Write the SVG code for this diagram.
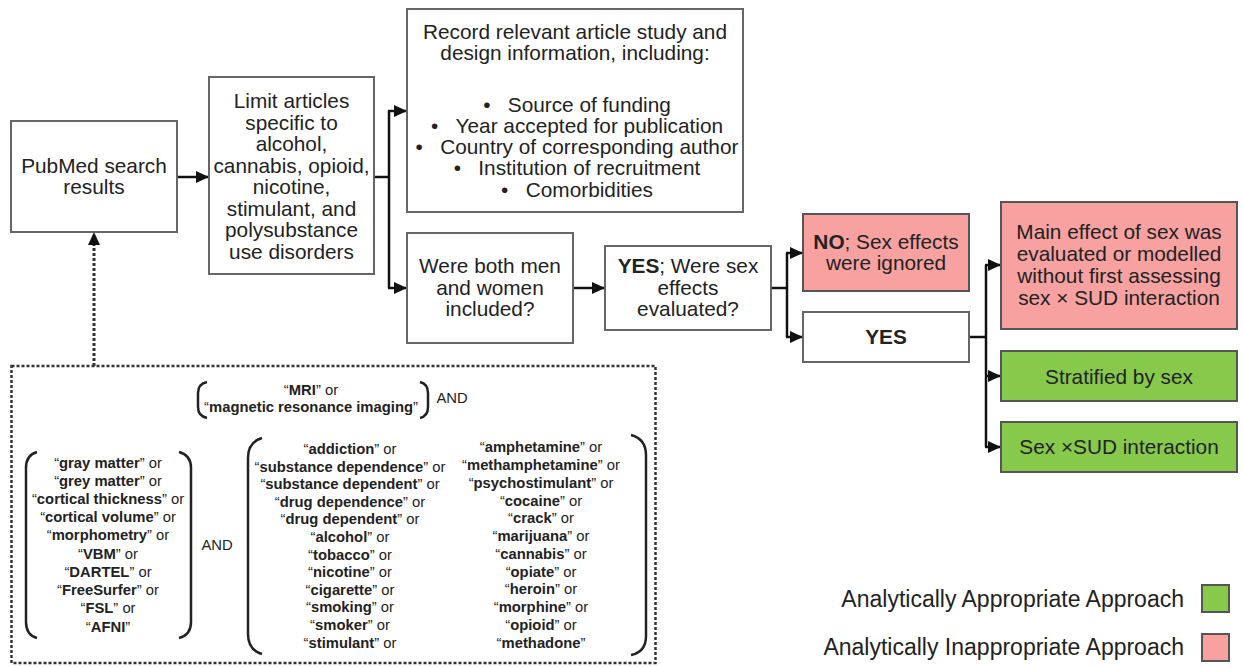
<svg xmlns="http://www.w3.org/2000/svg" width="1243" height="667" viewBox="0 0 1243 667">
<style>
text{font-family:"Liberation Sans",Arial,sans-serif;fill:#222;}
.m{font-size:20.8px;text-anchor:middle;}
.s{font-size:14.8px;text-anchor:middle;}
.b{font-weight:bold;}
.box{fill:#fff;stroke:#666;stroke-width:2;}
.red{fill:#f7a1a1;stroke:#555;stroke-width:2;}
.grn{fill:#86c94b;stroke:#555;stroke-width:2;}
.ln{fill:none;stroke:#111;stroke-width:2.5;}
.arr{fill:none;stroke:#111;stroke-width:2.5;marker-end:url(#ah);}
.br{fill:none;stroke:#222;stroke-width:2.5;}
.leg{font-size:23px;text-anchor:end;}
</style>
<defs>
<marker id="ah" markerUnits="userSpaceOnUse" markerWidth="14" markerHeight="12" refX="13" refY="6" orient="auto">
<path d="M0,0 L13,6 L0,12 Z" fill="#111"/>
</marker>
</defs>
<rect width="1243" height="667" fill="#fff"/>

<g id="connectors">
<line class="arr" x1="177" y1="177" x2="209" y2="177"/>
<polyline class="ln" points="374,177 389,177"/>
<line class="ln" x1="389" y1="111" x2="389" y2="288"/>
<line class="arr" x1="388" y1="111" x2="407" y2="111"/>
<line class="arr" x1="388" y1="288" x2="407" y2="288"/>
<line class="arr" x1="573" y1="288" x2="605" y2="288"/>
<line class="ln" x1="771" y1="288" x2="787" y2="288"/>
<line class="ln" x1="787" y1="253" x2="787" y2="337"/>
<line class="arr" x1="786" y1="253" x2="803" y2="253"/>
<line class="arr" x1="786" y1="337" x2="803" y2="337"/>
<line class="ln" x1="969" y1="337" x2="986" y2="337"/>
<line class="ln" x1="986" y1="265" x2="986" y2="447"/>
<line class="arr" x1="985" y1="265" x2="1001" y2="265"/>
<line class="arr" x1="985" y1="376" x2="1001" y2="376"/>
<line class="arr" x1="985" y1="447" x2="1001" y2="447"/>
<line x1="94" y1="366" x2="94" y2="244" stroke="#333" stroke-width="3" stroke-dasharray="3 2"/>
<path d="M94,232 L100,245 L88,245 Z" fill="#111"/>
</g>

<g id="pubmed">
<rect class="box" x="11" y="121" width="166" height="111"/>
<text class="m" x="94" y="173">PubMed search</text>
<text class="m" x="94" y="194">results</text>
</g>

<g id="limit">
<rect class="box" x="209" y="77" width="165" height="197"/>
<text class="m" x="291.5" y="108">Limit articles</text>
<text class="m" x="291.5" y="129.5">specific to</text>
<text class="m" x="291.5" y="151">alcohol,</text>
<text class="m" x="291.5" y="173">cannabis, opioid,</text>
<text class="m" x="291.5" y="194">nicotine,</text>
<text class="m" x="291.5" y="215.5">stimulant, and</text>
<text class="m" x="291.5" y="237">polysubstance</text>
<text class="m" x="291.5" y="259">use disorders</text>
</g>

<g id="record">
<rect class="box" x="407" y="9" width="336" height="203"/>
<text class="m" x="575" y="39">Record relevant article study and</text>
<text class="m" x="575" y="60">design information, including:</text>
<text class="m" x="577" y="112">•&#160;&#160;&#160;Source of funding</text>
<text class="m" x="577" y="133">•&#160;&#160;&#160;Year accepted for publication</text>
<text class="m" x="577" y="154">•&#160;&#160;&#160;Country of corresponding author</text>
<text class="m" x="577" y="175">•&#160;&#160;&#160;Institution of recruitment</text>
<text class="m" x="577" y="197">•&#160;&#160;&#160;Comorbidities</text>
</g>

<g id="both">
<rect class="box" x="407" y="233" width="166" height="110"/>
<text class="m" x="490" y="273">Were both men</text>
<text class="m" x="490" y="294.5">and women</text>
<text class="m" x="490" y="316">included?</text>
</g>

<g id="yes-eval">
<rect class="box" x="605" y="246" width="166" height="84"/>
<text class="m" x="688" y="273"><tspan class="b">YES</tspan>; Were sex</text>
<text class="m" x="688" y="294.5">effects</text>
<text class="m" x="688" y="316">evaluated?</text>
</g>

<g id="no-ignored">
<rect class="red" x="803" y="214" width="166" height="77"/>
<text class="m" x="886" y="249"><tspan class="b">NO</tspan>; Sex effects</text>
<text class="m" x="886" y="270">were ignored</text>
</g>

<g id="yes">
<rect class="box" x="803" y="312" width="166" height="50"/>
<text class="m b" x="886" y="344">YES</text>
</g>

<g id="main-effect">
<rect class="red" x="1001" y="202" width="236" height="127"/>
<text class="m" x="1119" y="239">Main effect of sex was</text>
<text class="m" x="1119" y="261">evaluated or modelled</text>
<text class="m" x="1119" y="283">without first assessing</text>
<text class="m" x="1119" y="305">sex × SUD interaction</text>
</g>

<g id="stratified">
<rect class="grn" x="1001" y="351" width="236" height="50"/>
<text class="m" x="1119" y="384">Stratified by sex</text>
</g>

<g id="interaction">
<rect class="grn" x="1001" y="422" width="236" height="50"/>
<text class="m" x="1119" y="454">Sex ×SUD interaction</text>
</g>

<g id="search-terms">
<rect x="11.5" y="366" width="644" height="297" fill="none" stroke="#333" stroke-width="2.5" stroke-dasharray="3 2"/>
<path class="br" d="M207,382 Q198,384 198,393 L198,407 Q198,416 207,418"/>
<path class="br" d="M420,382 Q428,384 428,393 L428,407 Q428,416 420,418"/>
<text class="s" x="311" y="395">“<tspan class="b">MRI</tspan>” or</text>
<text class="s" x="311" y="412">“<tspan class="b">magnetic resonance imaging</tspan>”</text>
<text class="s" x="452" y="403">AND</text>

<path class="br" d="M37,452 Q26,455 26,468 L26,622 Q26,635 37,638"/>
<path class="br" d="M179,452 Q191,455 191,468 L191,622 Q191,635 179,638"/>
<text class="s" x="108" y="468">“<tspan class="b">gray matter</tspan>” or</text>
<text class="s" x="108" y="486">“<tspan class="b">grey matter</tspan>” or</text>
<text class="s" x="108" y="504">“<tspan class="b">cortical thickness</tspan>” or</text>
<text class="s" x="108" y="522">“<tspan class="b">cortical volume</tspan>” or</text>
<text class="s" x="108" y="540">“<tspan class="b">morphometry</tspan>” or</text>
<text class="s" x="108" y="559">“<tspan class="b">VBM</tspan>” or</text>
<text class="s" x="108" y="577">“<tspan class="b">DARTEL</tspan>” or</text>
<text class="s" x="108" y="595">“<tspan class="b">FreeSurfer</tspan>” or</text>
<text class="s" x="108" y="613">“<tspan class="b">FSL</tspan>” or</text>
<text class="s" x="108" y="632">“<tspan class="b">AFNI</tspan>”</text>
<text class="s" x="217" y="550">AND</text>

<path class="br" d="M262,438 Q248,442 248,458 L248,634 Q248,650 262,654"/>
<path class="br" d="M631,435 Q646,439 646,455 L646,636 Q646,652 631,655"/>
<text class="s" x="350" y="454">“<tspan class="b">addiction</tspan>” or</text>
<text class="s" x="350" y="472">“<tspan class="b">substance dependence</tspan>” or</text>
<text class="s" x="350" y="489">“<tspan class="b">substance dependent</tspan>” or</text>
<text class="s" x="350" y="507">“<tspan class="b">drug dependence</tspan>” or</text>
<text class="s" x="350" y="524">“<tspan class="b">drug dependent</tspan>” or</text>
<text class="s" x="350" y="542">“<tspan class="b">alcohol</tspan>” or</text>
<text class="s" x="350" y="560">“<tspan class="b">tobacco</tspan>” or</text>
<text class="s" x="350" y="577">“<tspan class="b">nicotine</tspan>” or</text>
<text class="s" x="350" y="595">“<tspan class="b">cigarette</tspan>” or</text>
<text class="s" x="350" y="612">“<tspan class="b">smoking</tspan>” or</text>
<text class="s" x="350" y="630">“<tspan class="b">smoker</tspan>” or</text>
<text class="s" x="350" y="648">“<tspan class="b">stimulant</tspan>” or</text>

<text class="s" x="541" y="452">“<tspan class="b">amphetamine</tspan>” or</text>
<text class="s" x="541" y="470">“<tspan class="b">methamphetamine</tspan>” or</text>
<text class="s" x="541" y="488">“<tspan class="b">psychostimulant</tspan>” or</text>
<text class="s" x="541" y="506">“<tspan class="b">cocaine</tspan>” or</text>
<text class="s" x="541" y="523">“<tspan class="b">crack</tspan>” or</text>
<text class="s" x="541" y="541">“<tspan class="b">marijuana</tspan>” or</text>
<text class="s" x="541" y="559">“<tspan class="b">cannabis</tspan>” or</text>
<text class="s" x="541" y="577">“<tspan class="b">opiate</tspan>” or</text>
<text class="s" x="541" y="594">“<tspan class="b">heroin</tspan>” or</text>
<text class="s" x="541" y="612">“<tspan class="b">morphine</tspan>” or</text>
<text class="s" x="541" y="630">“<tspan class="b">opioid</tspan>” or</text>
<text class="s" x="541" y="648">“<tspan class="b">methadone</tspan>”</text>
</g>

<g id="legend">
<text class="leg" x="1184" y="607">Analytically Appropriate Approach</text>
<rect class="grn" x="1202" y="585" width="27" height="27"/>
<text class="leg" x="1184" y="655">Analytically Inappropriate Approach</text>
<rect class="red" x="1202" y="634" width="27" height="27"/>
</g>
</svg>
